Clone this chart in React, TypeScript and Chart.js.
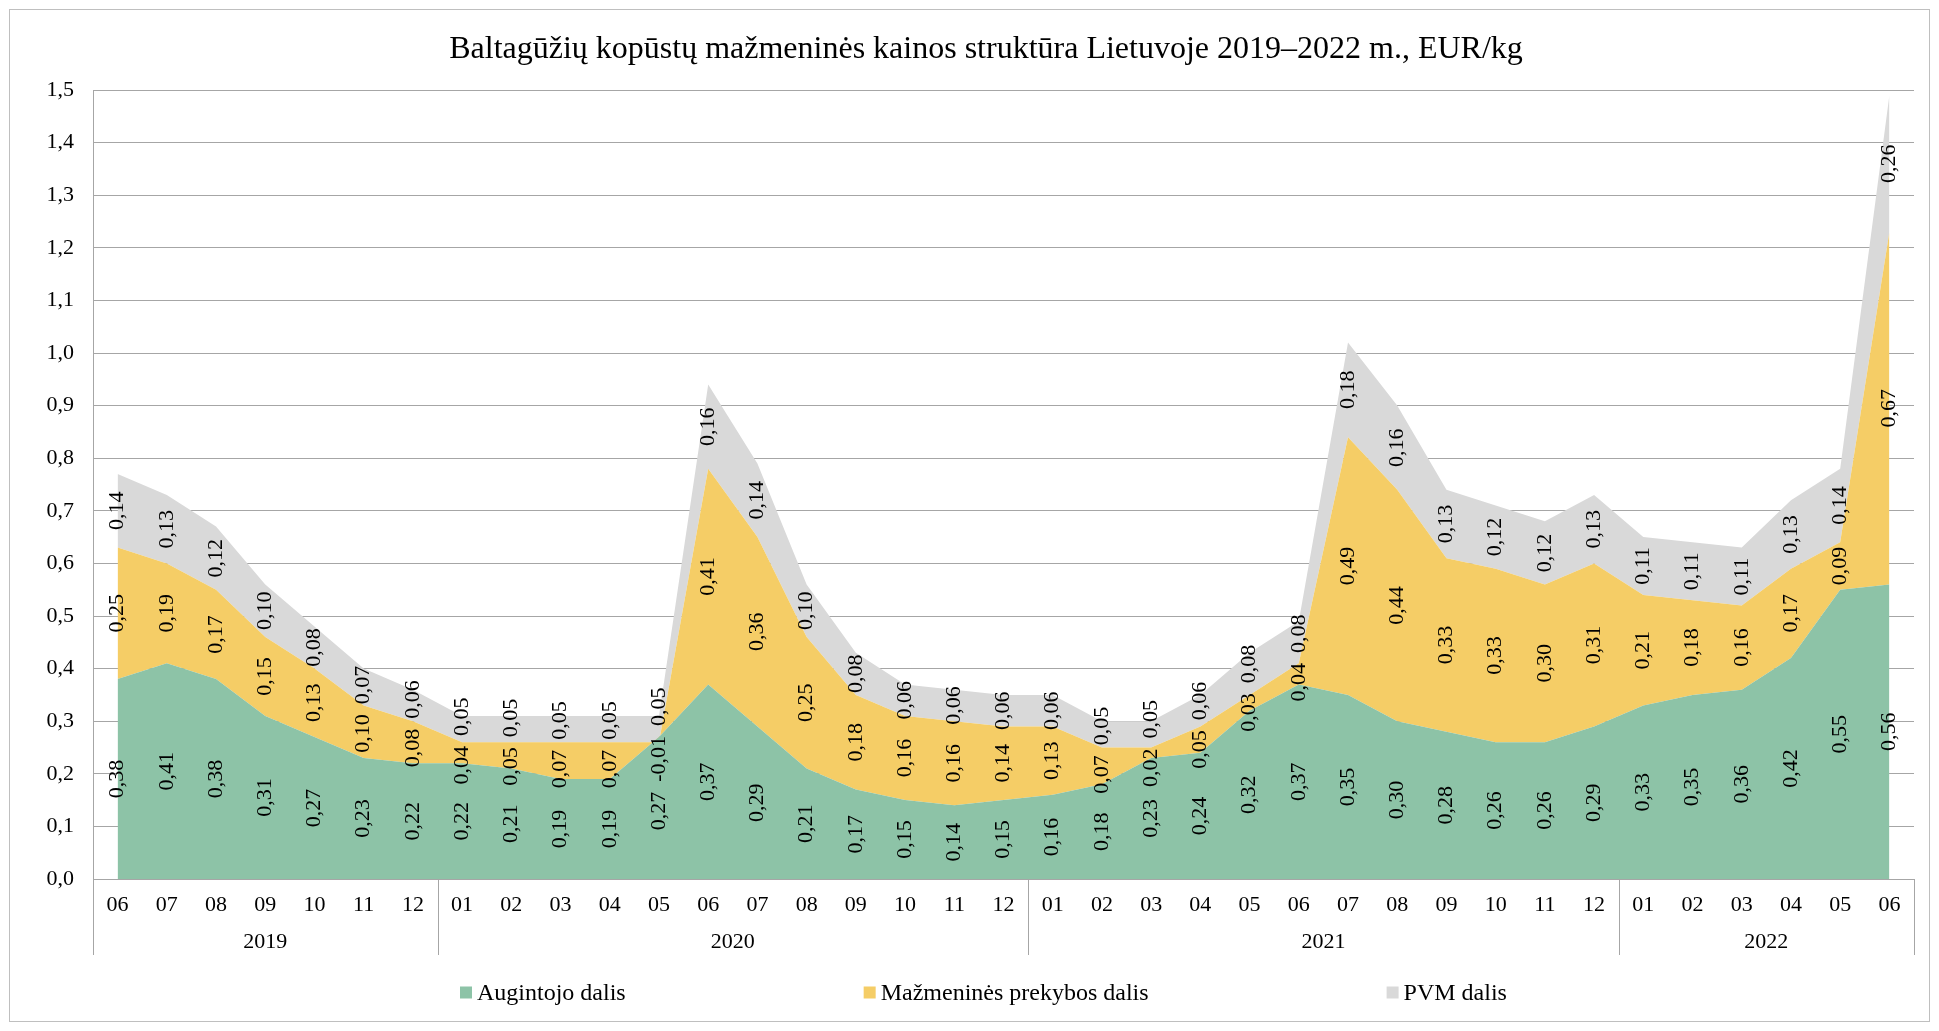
import React, { useEffect, useRef } from "react";
import { Chart, registerables } from "chart.js";

Chart.register(...registerables);

const months = [
  "06", "07", "08", "09", "10", "11", "12",
  "01", "02", "03", "04", "05", "06", "07", "08", "09", "10", "11", "12",
  "01", "02", "03", "04", "05", "06", "07", "08", "09", "10", "11", "12",
  "01", "02", "03", "04", "05", "06",
];
const years = ["2019", "2020", "2021", "2022"];
const monthsPerYear = [7, 12, 12, 6];

const growerShare = [
  0.38, 0.41, 0.38, 0.31, 0.27, 0.23, 0.22,
  0.22, 0.21, 0.19, 0.19, 0.27, 0.37, 0.29, 0.21, 0.17, 0.15, 0.14, 0.15,
  0.16, 0.18, 0.23, 0.24, 0.32, 0.37, 0.35, 0.30, 0.28, 0.26, 0.26, 0.29,
  0.33, 0.35, 0.36, 0.42, 0.55, 0.56,
];
const retailShare = [
  0.25, 0.19, 0.17, 0.15, 0.13, 0.10, 0.08,
  0.04, 0.05, 0.07, 0.07, -0.01, 0.41, 0.36, 0.25, 0.18, 0.16, 0.16, 0.14,
  0.13, 0.07, 0.02, 0.05, 0.03, 0.04, 0.49, 0.44, 0.33, 0.33, 0.30, 0.31,
  0.21, 0.18, 0.16, 0.17, 0.09, 0.67,
];
const vatShare = [
  0.14, 0.13, 0.12, 0.10, 0.08, 0.07, 0.06,
  0.05, 0.05, 0.05, 0.05, 0.05, 0.16, 0.14, 0.10, 0.08, 0.06, 0.06, 0.06,
  0.06, 0.05, 0.05, 0.06, 0.08, 0.08, 0.18, 0.16, 0.13, 0.12, 0.12, 0.13,
  0.11, 0.11, 0.11, 0.13, 0.14, 0.26,
];
const seriesNames = ["Augintojo dalis", "Mažmeninės prekybos dalis", "PVM dalis"];
const seriesColors = ["#8DC3A7", "#F5CD66", "#D9D9D9"];
const titleText = "Baltagūžių kopūstų mažmeninės kainos struktūra Lietuvoje 2019–2022 m., EUR/kg";

const FONT = "'Liberation Serif', 'Times New Roman', serif";
const GRID = "#A6A6A6";
const fmt = (v: number) => v.toFixed(2).replace(".", ",");

const titlePlugin = {
  id: "titleText",
  afterDraw(chart: any) {
    const { ctx } = chart;
    ctx.save();
    ctx.font = `32px ${FONT}`;
    ctx.fillStyle = "#000";
    ctx.textAlign = "center";
    ctx.textBaseline = "middle";
    ctx.fillText(titleText, 976, 40);
    ctx.restore();
  },
};

const bandLabels = {
  id: "bandLabels",
  afterDatasetsDraw(chart: any) {
    const { ctx } = chart;
    const xs = chart.scales.x;
    const ys = chart.scales.y;
    const n = chart.data.labels.length;
    ctx.save();
    ctx.font = `22px ${FONT}`;
    ctx.fillStyle = "#000";
    ctx.textAlign = "center";
    ctx.textBaseline = "middle";
    const pad = 10;
    for (let j = 0; j < n; j++) {
      let base = 0;
      const items = chart.data.datasets.map((ds: any) => {
        const v = ds.data[j] as number;
        const mid = base + v / 2;
        base += v;
        const text = fmt(v);
        return { text, py: ys.getPixelForValue(mid), half: ctx.measureText(text).width / 2 };
      });
      for (let it = 0; it < 30; it++) {
        for (let k = 0; k < items.length - 1; k++) {
          const a = items[k];
          const b = items[k + 1];
          const need = a.half + b.half + pad;
          const d = a.py - b.py;
          if (d < need) {
            const s = (need - d) / 2;
            a.py += s;
            b.py -= s;
          }
        }
      }
      const px = xs.getPixelForValue(j);
      items.forEach((o: any) => {
        ctx.save();
        ctx.translate(px, o.py);
        ctx.rotate(-Math.PI / 2);
        ctx.fillText(o.text, 0, 0);
        ctx.restore();
      });
    }
    ctx.restore();
  },
};

const yearAxis = {
  id: "yearAxis",
  afterDraw(chart: any) {
    const { ctx } = chart;
    const xs = chart.scales.x;
    const ca = chart.chartArea;
    const step = xs.getPixelForValue(1) - xs.getPixelForValue(0);
    ctx.save();
    ctx.strokeStyle = GRID;
    ctx.lineWidth = 1;
    ctx.font = `22px ${FONT}`;
    ctx.fillStyle = "#000";
    ctx.textAlign = "center";
    ctx.textBaseline = "middle";
    let idx = 0;
    const line = (x: number, top: number) => {
      const xx = Math.round(x) + 0.5;
      ctx.beginPath();
      ctx.moveTo(xx, top);
      ctx.lineTo(xx, xs.bottom);
      ctx.stroke();
    };
    years.forEach((yr, k) => {
      const cnt = monthsPerYear[k];
      const xStart = xs.getPixelForValue(idx) - step / 2;
      const xEnd = xs.getPixelForValue(idx + cnt - 1) + step / 2;
      line(xStart, ca.bottom);
      if (k === years.length - 1) line(xEnd, ca.bottom);
      ctx.fillText(yr, (xStart + xEnd) / 2, ca.bottom + 63);
      idx += cnt;
    });
    ctx.restore();
  },
};

const customLegend = {
  id: "customLegend",
  afterDraw(chart: any) {
    const { ctx } = chart;
    ctx.save();
    ctx.font = `24px ${FONT}`;
    ctx.textBaseline = "middle";
    ctx.textAlign = "left";
    const gap = 238;
    const box = 12;
    const textOff = 17;
    const cy = 982.5;
    let x = 450;
    seriesNames.forEach((name, i) => {
      ctx.fillStyle = seriesColors[i];
      ctx.fillRect(x, cy - box / 2, box, box);
      ctx.fillStyle = "#000";
      ctx.fillText(name, x + textOff, cy + 1);
      x += textOff + ctx.measureText(name).width + gap;
    });
    ctx.restore();
  },
};

export default function App() {
  const canvasRef = useRef<HTMLCanvasElement | null>(null);

  useEffect(() => {
    if (!canvasRef.current) return;
    const data = [growerShare, retailShare, vatShare];
    const chart = new Chart(canvasRef.current, {
      type: "line",
      data: {
        labels: months,
        datasets: data.map((d, i) => ({
          label: seriesNames[i],
          data: d,
          backgroundColor: seriesColors[i],
          borderColor: seriesColors[i],
          borderWidth: 0,
          pointRadius: 0,
          tension: 0,
          fill: i === 0 ? "origin" : "-1",
        })),
      },
      options: {
        responsive: true,
        maintainAspectRatio: false,
        animation: false,
        events: [],
        layout: { padding: { left: 0, right: 15, top: 80, bottom: 66 } },
        plugins: {
          legend: { display: false },
          tooltip: { enabled: false },
          title: { display: false },
        },
        scales: {
          x: {
            type: "category",
            offset: true,
            grid: { display: false, drawTicks: false },
            border: { display: true, color: GRID, width: 1 },
            ticks: {
              autoSkip: false,
              maxRotation: 0,
              minRotation: 0,
              padding: 13,
              color: "#000",
              font: { family: FONT, size: 22 },
            },
            afterFit(scale: any) {
              scale.height = 76;
            },
          },
          y: {
            stacked: "single" as any,
            min: 0,
            max: 1.5,
            grid: { color: GRID, lineWidth: 1, drawTicks: false },
            border: { display: true, color: GRID, width: 1 },
            ticks: {
              stepSize: 0.1,
              padding: 19,
              color: "#000",
              font: { family: FONT, size: 22 },
              callback: (v: any) => Number(v).toFixed(1).replace(".", ","),
            },
            afterFit(scale: any) {
              scale.width = 83;
            },
          },
        },
      },
      plugins: [bandLabels, yearAxis, customLegend, titlePlugin],
    });
    return () => chart.destroy();
  }, []);

  return (
    <div
      style={{
        width: 1921,
        height: 1013,
        margin: "1px 0 0 1px",
        border: "1px solid #BFBFBF",
        boxSizing: "border-box",
        background: "#fff",
      }}
    >
      <div style={{ position: "relative", width: 1919, height: 1011 }}>
        <canvas ref={canvasRef} />
      </div>
    </div>
  );
}
